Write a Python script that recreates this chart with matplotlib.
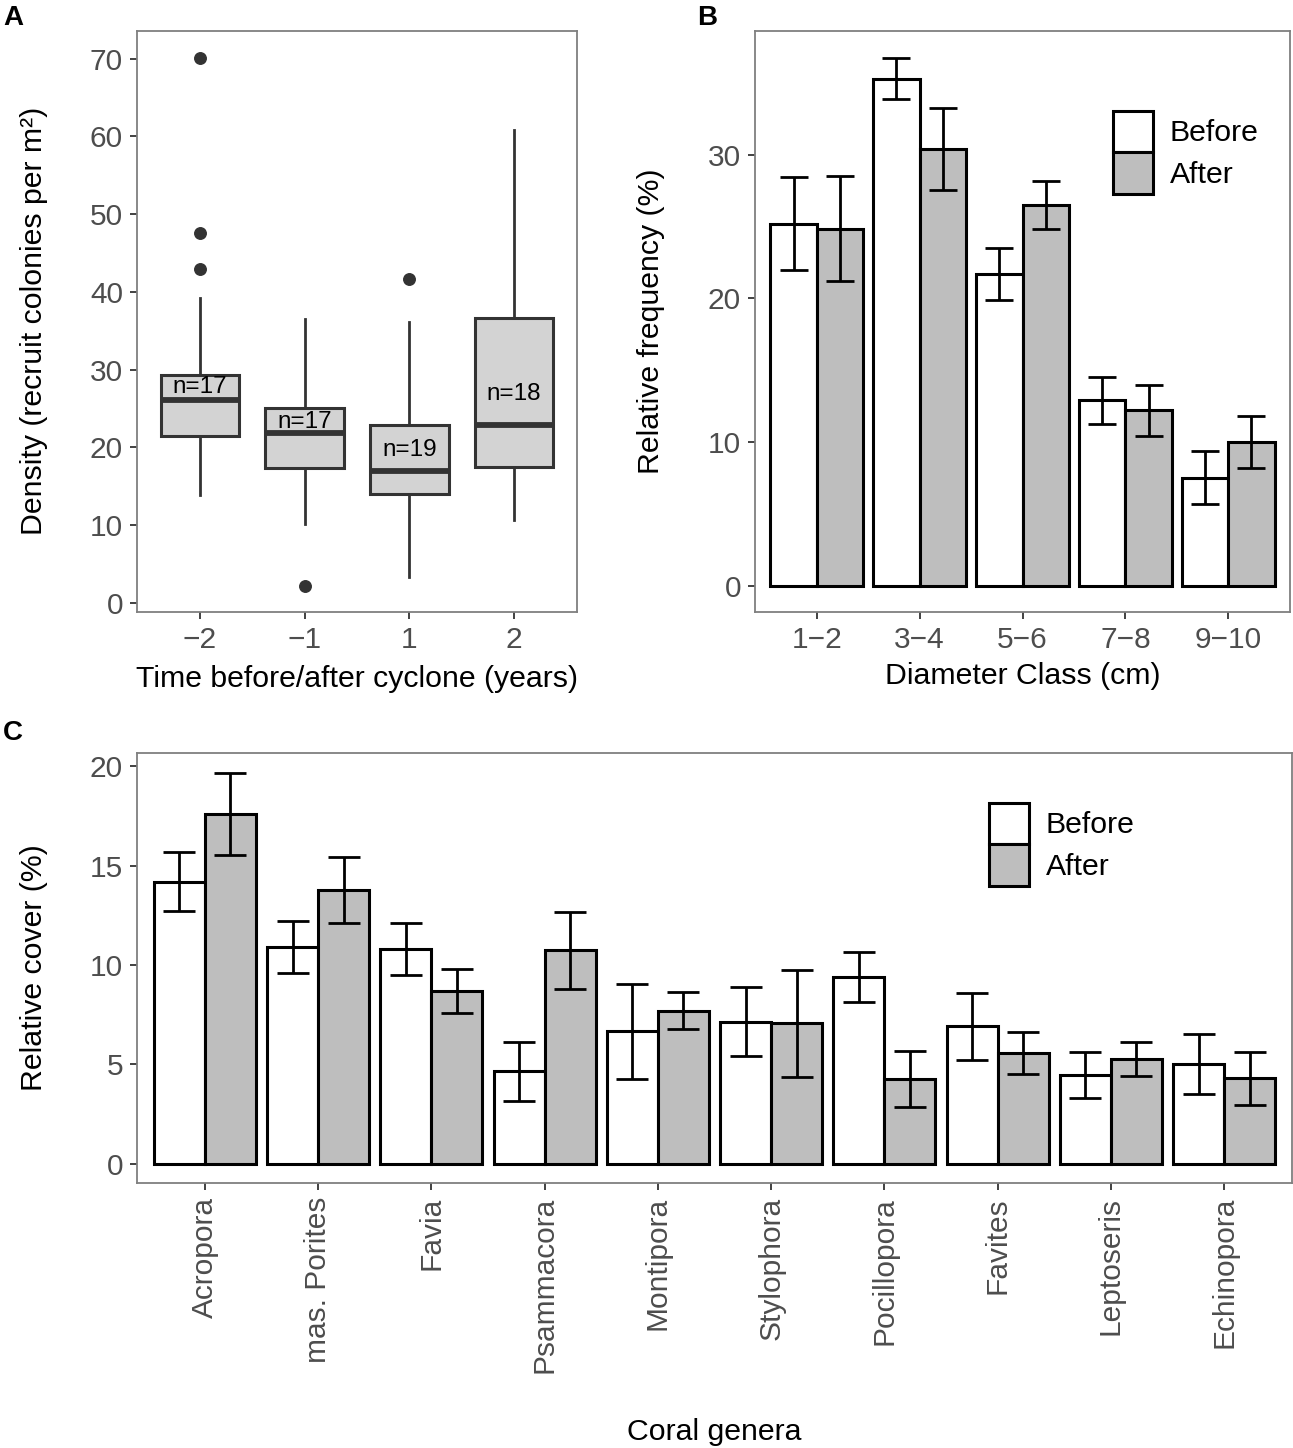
import matplotlib
matplotlib.use("Agg")
import matplotlib.pyplot as plt
from matplotlib.patches import Patch
import numpy as np

plt.rcParams["font.family"] = ["Liberation Sans", "DejaVu Sans"]

W, H = 1293, 1448
DPI = 100

GREY_TXT = "#4d4d4d"
BORDER = "#7f7f7f"
BOX_FILL = "#d3d3d3"
BOX_EDGE = "#333333"
AFTER_FILL = "#bebebe"

TICK_FS = 21.5
TITLE_FS = 21.8

# ---------------------------------------------------------------------------
# Panel A: recruit density boxplots
# ---------------------------------------------------------------------------
years = ["\u22122", "\u22121", "1", "2"]
a_q1 = [21.5, 17.3, 14.0, 17.4]
a_med = [26.1, 21.8, 16.9, 22.8]
a_q3 = [29.3, 25.0, 22.8, 36.6]
a_whislo = [13.8, 10.1, 3.3, 10.6]
a_whishi = [39.2, 36.5, 36.1, 60.8]
a_fliers = [[43.0, 47.6, 70.1], [2.2], [41.6], []]
a_n = ["n=17", "n=17", "n=19", "n=18"]
a_n_y = [27.7, 23.2, 19.7, 26.8]

# ---------------------------------------------------------------------------
# Panel B: diameter classes
# ---------------------------------------------------------------------------
diam_classes = ["1\u22122", "3\u22124", "5\u22126", "7\u22128", "9\u221210"]
b_before = [25.2, 35.3, 21.7, 12.9, 7.5]
b_before_se = [3.25, 1.45, 1.8, 1.65, 1.85]
b_after = [24.85, 30.4, 26.5, 12.2, 10.0]
b_after_se = [3.65, 2.85, 1.7, 1.8, 1.8]

# ---------------------------------------------------------------------------
# Panel C: coral genera cover
# ---------------------------------------------------------------------------
genera = ["Acropora", "mas. Porites", "Favia", "Psammacora", "Montipora",
          "Stylophora", "Pocillopora", "Favites", "Leptoseris", "Echinopora"]
c_before = [14.2, 10.88, 10.81, 4.64, 6.65, 7.14, 9.39, 6.9, 4.46, 5.0]
c_before_se = [1.47, 1.31, 1.3, 1.47, 2.37, 1.74, 1.27, 1.68, 1.16, 1.5]
c_after = [17.6, 13.77, 8.69, 10.74, 7.69, 7.06, 4.26, 5.55, 5.26, 4.29]
c_after_se = [2.06, 1.66, 1.1, 1.93, 0.94, 2.7, 1.43, 1.06, 0.85, 1.34]


def px_rect(left, right, top, bottom):
    return [left / W, 1 - bottom / H, (right - left) / W, (bottom - top) / H]


def style_axes(ax):
    for sp in ax.spines.values():
        sp.set_color(BORDER)
        sp.set_linewidth(1.3)
    ax.tick_params(colors=GREY_TXT, labelsize=TICK_FS, length=5, width=1.3,
                   pad=5, labelcolor=GREY_TXT)
    ax.tick_params(axis="both", color=BOX_EDGE)


def dodge_bars(ax, before, before_se, after, after_se, capsize):
    x = np.arange(1, len(before) + 1)
    w = 0.45
    ax.bar(x - w / 2, before, width=w, color="white", edgecolor="black",
           linewidth=2.2, zorder=2)
    ax.bar(x + w / 2, after, width=w, color=AFTER_FILL, edgecolor="black",
           linewidth=2.2, zorder=2)
    ax.errorbar(x - w / 2, before, yerr=before_se, fmt="none", ecolor="black",
                elinewidth=2, capsize=capsize, capthick=2, zorder=3)
    ax.errorbar(x + w / 2, after, yerr=after_se, fmt="none", ecolor="black",
                elinewidth=2, capsize=capsize, capthick=2, zorder=3)
    ax.set_xticks(x)
    ax.set_xlim(0.4, len(before) + 0.6)


def add_legend(ax, anchor_px):
    handles = [Patch(facecolor="white", edgecolor="black", linewidth=2.2),
               Patch(facecolor=AFTER_FILL, edgecolor="black", linewidth=2.2)]
    fig = ax.figure
    leg = ax.legend(handles, ["Before", "After"], loc="upper left",
                    bbox_to_anchor=(anchor_px[0] / W, 1 - anchor_px[1] / H),
                    bbox_transform=fig.transFigure, frameon=False,
                    fontsize=TITLE_FS, handlelength=1.33, handleheight=1.72,
                    labelspacing=0.0, handletextpad=0.55, borderpad=0,
                    borderaxespad=0)
    return leg


fig = plt.figure(figsize=(W / DPI, H / DPI), dpi=DPI)
fig.patch.set_facecolor("white")

# ---- A
axA = fig.add_axes(px_rect(137, 577, 30.7, 612))
style_axes(axA)
pos = np.arange(1, len(years) + 1)
stats = [dict(q1=a_q1[i], med=a_med[i], q3=a_q3[i], whislo=a_whislo[i],
              whishi=a_whishi[i], fliers=a_fliers[i]) for i in range(len(years))]
axA.bxp(stats, positions=pos, widths=0.75, patch_artist=True, showcaps=False,
        boxprops=dict(facecolor=BOX_FILL, edgecolor=BOX_EDGE, linewidth=2.2),
        medianprops=dict(color=BOX_EDGE, linewidth=4.2, solid_capstyle="butt"),
        whiskerprops=dict(color=BOX_EDGE, linewidth=2),
        flierprops=dict(marker="o", markerfacecolor=BOX_EDGE,
                        markeredgecolor=BOX_EDGE, markersize=8.3))
for p, lab, yy in zip(pos, a_n, a_n_y):
    axA.text(p, yy, lab, ha="center", va="center", fontsize=17.5, color="black")
axA.set_xlim(0.4, 4.6)
axA.set_ylim(-1.2, 73.6)
axA.set_yticks([0, 10, 20, 30, 40, 50, 60, 70])
axA.set_xticks(pos)
axA.set_xticklabels(years)
axA.set_xlabel("Time before/after cyclone (years)", fontsize=TITLE_FS)
axA.set_ylabel("Density (recruit colonies per m\u00b2)", fontsize=TITLE_FS)
axA.xaxis.set_label_coords(0.5, -0.092)
axA.yaxis.set_label_coords(-0.202, 0.5)

# ---- B
axB = fig.add_axes(px_rect(755, 1290, 30.7, 612))
style_axes(axB)
dodge_bars(axB, b_before, b_before_se, b_after, b_after_se, capsize=10.4)
axB.set_ylim(-1.84, 38.64)
axB.set_yticks([0, 10, 20, 30])
axB.set_xticklabels(diam_classes)
axB.set_xlabel("Diameter Class (cm)", fontsize=TITLE_FS)
axB.set_ylabel("Relative frequency (%)", fontsize=TITLE_FS)
axB.xaxis.set_label_coords(0.5, -0.086)
axB.yaxis.set_label_coords(-0.168, 0.5)
add_legend(axB, (1113, 111))

# ---- C
axC = fig.add_axes(px_rect(137, 1292, 753, 1183))
style_axes(axC)
dodge_bars(axC, c_before, c_before_se, c_after, c_after_se, capsize=11.4)
axC.set_ylim(-0.98, 20.67)
axC.set_yticks([0, 5, 10, 15, 20])
axC.set_xticklabels(genera, rotation=90)
axC.set_xlabel("Coral genera", fontsize=TITLE_FS)
axC.set_ylabel("Relative cover (%)", fontsize=TITLE_FS)
axC.xaxis.set_label_coords(0.5, -0.547)
axC.yaxis.set_label_coords(-0.077, 0.5)
add_legend(axC, (989, 803))

# panel letters
for lab, x, y in [("A", 3, 25), ("B", 697, 25), ("C", 3, 740)]:
    fig.text(x / W, 1 - y / H, lab, fontsize=20, fontweight="bold",
             ha="left", va="baseline")

fig.savefig("out.png", dpi=DPI, facecolor="white")
